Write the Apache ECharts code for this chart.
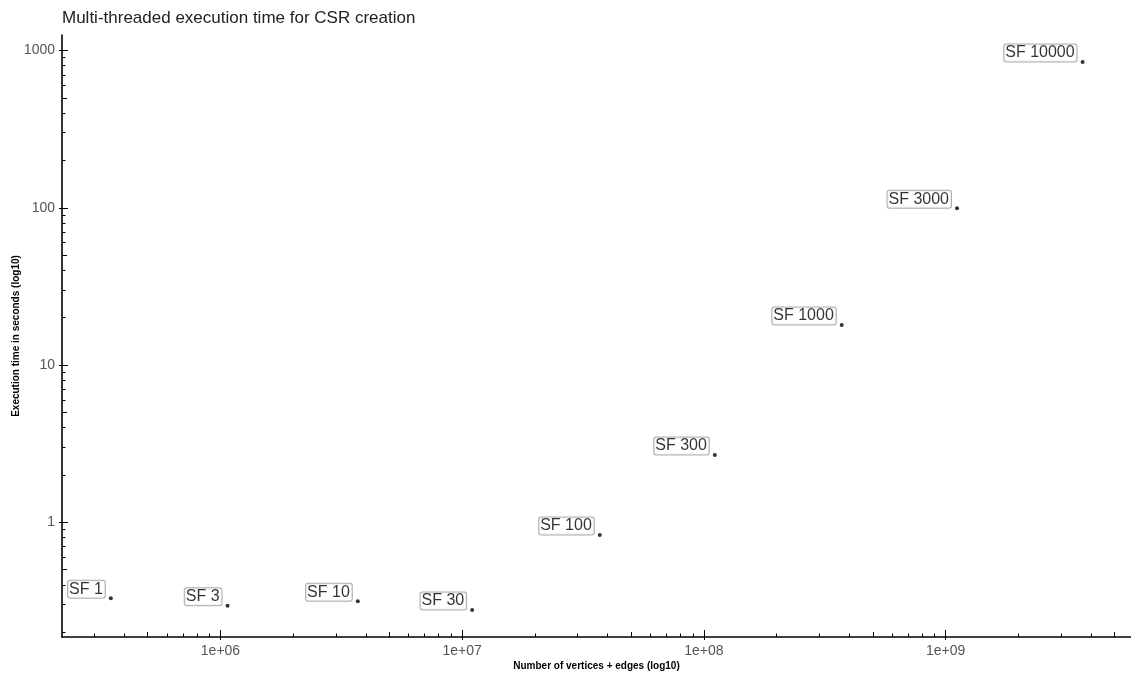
<!DOCTYPE html>
<html>
<head>
<meta charset="utf-8">
<title>CSR creation time</title>
<script src="https://cdn.jsdelivr.net/npm/echarts@6/dist/echarts.min.js"></script>
<style>
  html, body { margin: 0; padding: 0; background: #fff; }
  #chart { width: 1131px; height: 673px; }
</style>
</head>
<body>
<div id="chart"></div>
<script>
// Scale factors, graph sizes (vertices + edges) and multi-threaded CSR build times (s)
const scaleFactors = ['SF 1', 'SF 3', 'SF 10', 'SF 30', 'SF 100', 'SF 300', 'SF 1000', 'SF 3000', 'SF 10000'];
const graphSizes = [3.52e5, 1.07e6, 3.70e6, 1.10e7, 3.71e7, 1.11e8, 3.72e8, 1.115e9, 3.69e9];
const execSeconds = [0.329, 0.295, 0.315, 0.277, 0.832, 2.68, 18.0, 99.3, 845];

// Axis ranges and labelled decades
const xRange = [2.21e5, 5.85e9];
const yRange = [0.1868, 1254];
const xDecades = [1e6, 1e7, 1e8, 1e9];
const yDecades = [1, 10, 100, 1000];

const FONT = '"Liberation Sans", Arial, sans-serif';

// Tick values between decades: 5x gets a medium tick, the rest a short one
function minorValues(lo, hi, mults) {
  const out = [];
  for (let e = Math.floor(Math.log10(lo)); e <= Math.ceil(Math.log10(hi)); e++) {
    for (const m of mults) {
      const v = m * Math.pow(10, e);
      if (v >= lo && v <= hi) out.push(v);
    }
  }
  return out;
}
const xMid = minorValues(xRange[0], xRange[1], [5]);
const xShort = minorValues(xRange[0], xRange[1], [2, 3, 4, 6, 7, 8, 9]);
const yMid = minorValues(yRange[0], yRange[1], [5]);
const yShort = minorValues(yRange[0], yRange[1], [2, 3, 4, 6, 7, 8, 9]);

function expLabel(v) {
  const e = Math.round(Math.log10(v));
  return '1e+' + (e < 10 ? '0' + e : e);
}

function tickOnlyAxis(kind, range, values, len) {
  return {
    type: 'log', logBase: 10, gridIndex: 0,
    position: kind === 'x' ? 'bottom' : 'left', offset: 0,
    min: range[0], max: range[1],
    axisLine: { show: false },
    axisLabel: { show: false },
    splitLine: { show: false },
    axisTick: {
      show: true, inside: true, length: len, customValues: values,
      lineStyle: { color: '#000', width: 1 }
    }
  };
}

function mainAxis(kind, range, decades, name, nameGap, formatter) {
  return {
    type: 'log', logBase: 10, gridIndex: 0,
    position: kind === 'x' ? 'bottom' : 'left', offset: 0,
    min: range[0], max: range[1],
    name: name, nameLocation: 'middle', nameGap: nameGap, nameMoveOverlap: false,
    nameTextStyle: { fontFamily: FONT, fontSize: 10, fontWeight: 'bold', color: '#000' },
    axisLine: { show: true, lineStyle: { color: '#000', width: 1.6 } },
    axisTick: {
      show: true, inside: false, length: 3, customValues: decades,
      lineStyle: { color: '#000', width: 1 }
    },
    axisLabel: {
      show: true, customValues: decades, margin: 7,
      fontFamily: FONT, fontSize: 14, color: '#555',
      formatter: formatter
    },
    splitLine: { show: false }
  };
}

const chart = echarts.init(document.getElementById('chart'), null, { renderer: 'canvas' });

chart.setOption({
  animation: false,
  backgroundColor: '#fff',
  title: {
    text: 'Multi-threaded execution time for CSR creation',
    left: 62, top: 10, padding: 0,
    textStyle: { fontFamily: FONT, fontSize: 17, fontWeight: 'normal', color: '#222' }
  },
  grid: { left: 62, right: 0, top: 35, bottom: 36, containLabel: false, outerBoundsMode: 'none' },
  xAxis: [
    mainAxis('x', xRange, xDecades, 'Number of vertices + edges (log10)', 24, expLabel),
    tickOnlyAxis('x', xRange, xDecades, 7),
    tickOnlyAxis('x', xRange, xMid, 5),
    tickOnlyAxis('x', xRange, xShort, 3.5)
  ],
  yAxis: [
    mainAxis('y', yRange, yDecades, 'Execution time in seconds (log10)', 41, v => String(Math.round(v))),
    tickOnlyAxis('y', yRange, yDecades, 6),
    tickOnlyAxis('y', yRange, yMid, 5),
    tickOnlyAxis('y', yRange, yShort, 3.5)
  ],
  series: [{
    type: 'scatter',
    xAxisIndex: 0, yAxisIndex: 0,
    symbol: 'circle', symbolSize: 4,
    itemStyle: { color: '#000' },
    data: graphSizes.map((x, i) => ({ value: [x, execSeconds[i]], name: scaleFactors[i] })),
    label: {
      show: true, position: 'left', distance: 4, offset: [0, -9],
      formatter: p => p.name,
      fontFamily: FONT, fontSize: 16, color: '#000',
      backgroundColor: '#fff', borderColor: '#999', borderWidth: 1, borderRadius: 2,
      padding: [1, 2, 0, 1], lineHeight: 16
    }
  }]
});
</script>
</body>
</html>
